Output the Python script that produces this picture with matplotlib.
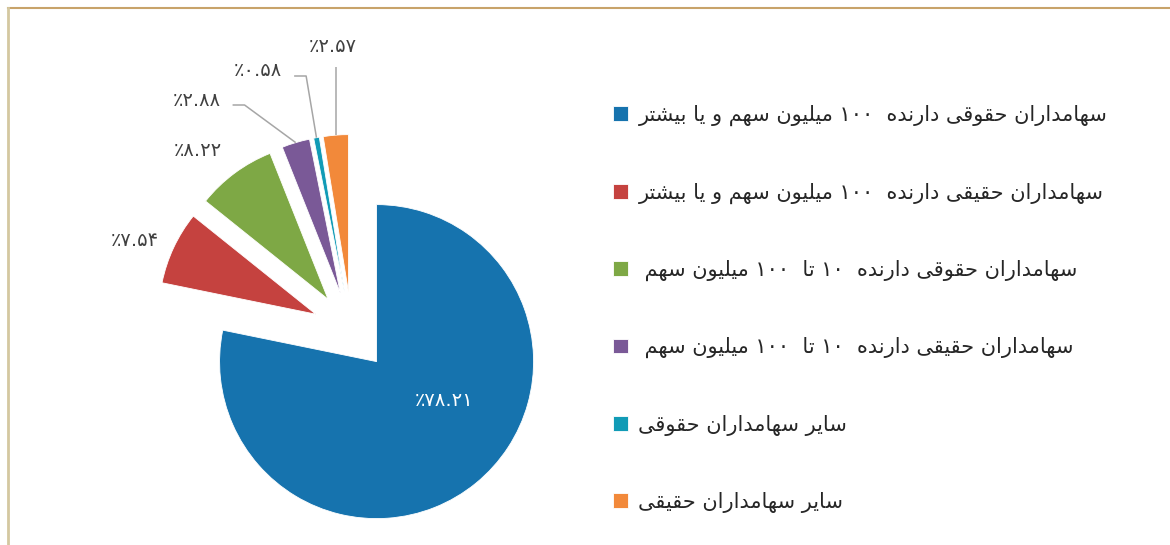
import re
import math
import matplotlib
matplotlib.use("Agg")
import matplotlib.pyplot as plt
from matplotlib.lines import Line2D

plt.rcParams['font.family'] = ['DejaVu Sans']

# shareholder groups and their share (percent)
labels = [
    'سهامداران حقوقی دارنده  ۱۰۰ میلیون سهم و یا بیشتر',
    'سهامداران حقیقی دارنده  ۱۰۰ میلیون سهم و یا بیشتر',
    'سهامداران حقوقی دارنده  ۱۰ تا  ۱۰۰ میلیون سهم ',
    'سهامداران حقیقی دارنده  ۱۰ تا  ۱۰۰ میلیون سهم ',
    'سایر سهامداران حقوقی',
    'سایر سهامداران حقیقی',
]
shares = [78.21, 7.54, 8.22, 2.88, 0.58, 2.57]
colors = ['#1673AE', '#C5423F', '#7EA845', '#7A5997', '#119BB6', '#F2893A']

# matplotlib does no arabic shaping, so pick presentation forms by hand
# (isolated, final, initial, medial)
FORMS = {
    'ا': ('\uFE8D', '\uFE8E', None, None),
    'ب': ('\uFE8F', '\uFE90', '\uFE91', '\uFE92'),
    'پ': ('\uFB56', '\uFB57', '\uFB58', '\uFB59'),
    'ت': ('\uFE95', '\uFE96', '\uFE97', '\uFE98'),
    'ج': ('\uFE9D', '\uFE9E', '\uFE9F', '\uFEA0'),
    'ح': ('\uFEA1', '\uFEA2', '\uFEA3', '\uFEA4'),
    'خ': ('\uFEA5', '\uFEA6', '\uFEA7', '\uFEA8'),
    'د': ('\uFEA9', '\uFEAA', None, None),
    'ر': ('\uFEAD', '\uFEAE', None, None),
    'ز': ('\uFEAF', '\uFEB0', None, None),
    'س': ('\uFEB1', '\uFEB2', '\uFEB3', '\uFEB4'),
    'ش': ('\uFEB5', '\uFEB6', '\uFEB7', '\uFEB8'),
    'ع': ('\uFEC9', '\uFECA', '\uFECB', '\uFECC'),
    'ف': ('\uFED1', '\uFED2', '\uFED3', '\uFED4'),
    'ق': ('\uFED5', '\uFED6', '\uFED7', '\uFED8'),
    'ل': ('\uFEDD', '\uFEDE', '\uFEDF', '\uFEE0'),
    'م': ('\uFEE1', '\uFEE2', '\uFEE3', '\uFEE4'),
    'ن': ('\uFEE5', '\uFEE6', '\uFEE7', '\uFEE8'),
    'ه': ('\uFEE9', '\uFEEA', '\uFEEB', '\uFEEC'),
    'و': ('\uFEED', '\uFEEE', None, None),
    'ی': ('\uFEEF', '\uFEF0', '\uFEF3', '\uFEF4'),
}
RIGHT_ONLY = set('اآدذرزژو')


def shape(text):
    out = []
    for i, ch in enumerate(text):
        if ch not in FORMS:
            out.append(ch)
            continue
        prev = text[i - 1] if i > 0 else ''
        nxt = text[i + 1] if i + 1 < len(text) else ''
        jp = prev in FORMS and prev not in RIGHT_ONLY
        jn = ch not in RIGHT_ONLY and nxt in FORMS
        f = FORMS[ch]
        if jp and jn:
            out.append(f[3])
        elif jp:
            out.append(f[1])
        elif jn:
            out.append(f[2])
        else:
            out.append(f[0])
    vis = ''.join(reversed(out))
    # numbers stay left to right inside rtl text
    return re.sub('[۰-۹0-9.]+', lambda m: m.group(0)[::-1], vis)


FA = str.maketrans('0123456789', '۰۱۲۳۴۵۶۷۸۹')


def pct(v):
    return '٪' + f'{v:.2f}'.translate(FA)


H = 545
fig = plt.figure(figsize=(11.7, 5.45), dpi=100)
ax = fig.add_axes([0, 0, 1, 1])

wedges, _ = ax.pie(shares, colors=colors, startangle=90, counterclock=False,
                   center=(351.6, H - 331), radius=157, explode=[39.5] * 6,
                   wedgeprops=dict(edgecolor='white', linewidth=0.6))
ax.set_xlim(0, 1170)
ax.set_ylim(0, H)
ax.set_aspect('equal')
ax.axis('off')

# label centres (pixels from top-left), leader kind
label_pos = [(444, 401), (134.5, 240), (197.5, 150), (196.5, 100), (258, 71), (332.5, 47)]
leader = [None, None, None, 'elbow', 'elbow', 'down']

texts = []
for i, v in enumerate(shares):
    x, y = label_pos[i]
    c = 'white' if i == 0 else '#404040'
    t = ax.text(x, H - y, pct(v), ha='center', va='center', fontsize=14, color=c)
    texts.append(t)

fig.canvas.draw()
for i, t in enumerate(texts):
    if leader[i] is None:
        continue
    w = wedges[i]
    th = math.radians((w.theta1 + w.theta2) / 2)
    px = w.center[0] + w.r * math.cos(th)
    py = w.center[1] + w.r * math.sin(th)
    bb = t.get_window_extent()
    if leader[i] == 'elbow':
        sx, sy = bb.x1 + 12, (bb.y0 + bb.y1) / 2 - 5
        xs, ys = [sx, sx + 12, px], [sy, sy, py]
    else:
        xs, ys = [px, px], [bb.y0 - 10, py]
    ax.plot(xs, ys, color='#A6A6A6', lw=1.1, solid_capstyle='butt')

ax.legend(wedges, [shape(l) for l in labels], loc='upper left',
          bbox_to_anchor=(613, H - 105), bbox_transform=ax.transData,
          frameon=False, fontsize=15, labelcolor='#262626',
          handlelength=0.72, handleheight=0.72, handletextpad=0.5,
          labelspacing=2.7, borderpad=0, borderaxespad=0)

# thin frame at top and left
fig.add_artist(Line2D([8 / 1170, 1], [1 - 8 / H, 1 - 8 / H], transform=fig.transFigure,
                      color='#C8A36A', lw=1.5))
fig.add_artist(Line2D([7.5 / 1170, 7.5 / 1170], [0, 1 - 8 / H], transform=fig.transFigure,
                      color='#D4C8A0', lw=2))

fig.savefig('out.png', dpi=100)
